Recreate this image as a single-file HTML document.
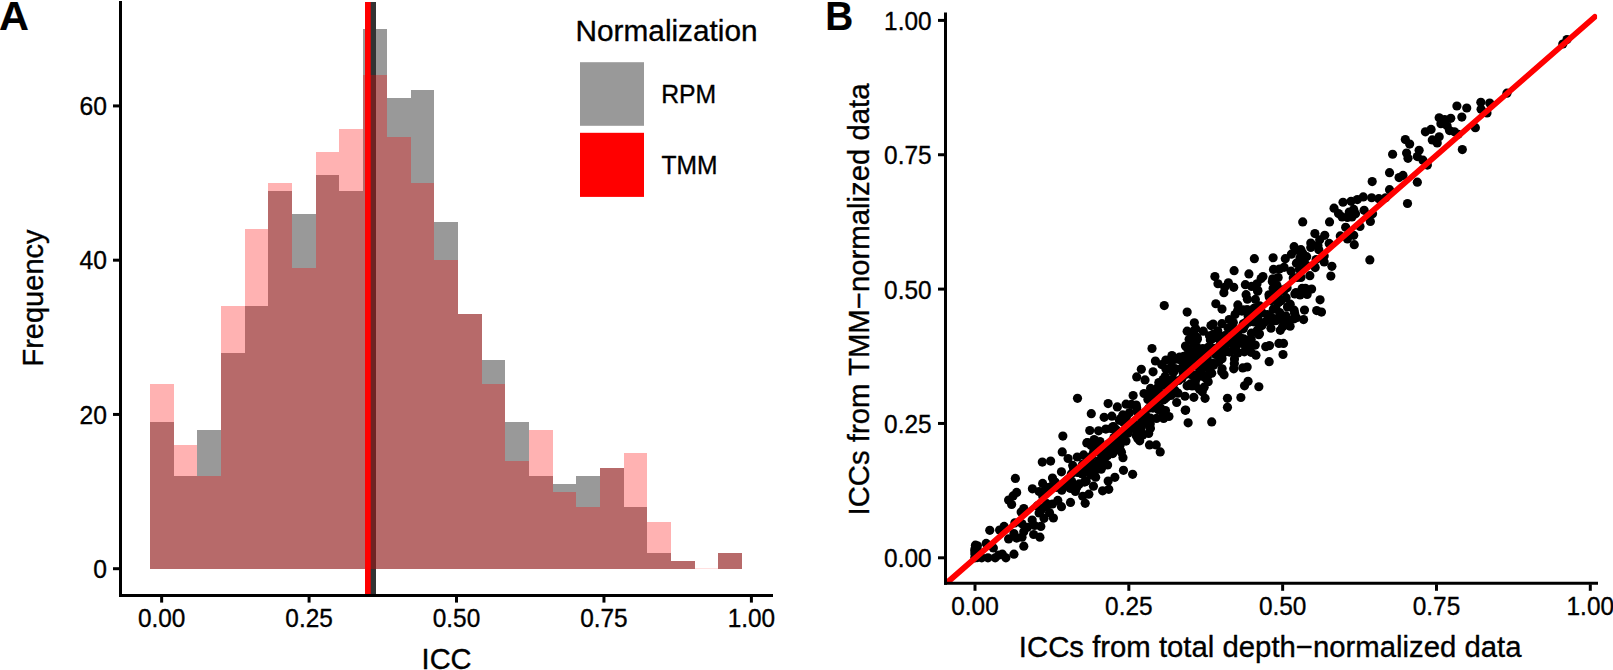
<!DOCTYPE html>
<html lang="en"><head><meta charset="utf-8"><title>ICC normalization comparison</title>
<style>html,body{margin:0;padding:0;background:#fff;}body{width:1613px;height:670px;overflow:hidden;}svg{display:block;}text{font-family:"Liberation Sans",Arial,Helvetica,sans-serif;fill:#000;stroke:#000;stroke-width:0.35px;stroke-linejoin:round;}text.b{stroke-width:0.15px;}</style>
</head><body>
<svg width="1613" height="670" viewBox="0 0 1613 670">
<rect x="0" y="0" width="1613" height="670" fill="#fff"/>
<g id="panelA">
<g fill="#000" fill-opacity="0.4" shape-rendering="crispEdges">
<rect x="150" y="422.15" width="23.68" height="146.55"/>
<rect x="173.68" y="476.14" width="23.68" height="92.56"/>
<rect x="197.37" y="429.87" width="23.68" height="138.83"/>
<rect x="221.05" y="352.74" width="23.68" height="215.96"/>
<rect x="244.74" y="306.46" width="23.68" height="262.24"/>
<rect x="268.42" y="190.76" width="23.68" height="377.94"/>
<rect x="292.1" y="213.9" width="23.68" height="354.8"/>
<rect x="315.79" y="175.34" width="23.68" height="393.36"/>
<rect x="339.47" y="190.76" width="23.68" height="377.94"/>
<rect x="363.16" y="28.79" width="23.68" height="539.91"/>
<rect x="386.84" y="98.21" width="23.68" height="470.49"/>
<rect x="410.52" y="90.49" width="23.68" height="478.21"/>
<rect x="434.21" y="221.62" width="23.68" height="347.08"/>
<rect x="457.89" y="314.17" width="23.68" height="254.53"/>
<rect x="481.58" y="360.45" width="23.68" height="208.25"/>
<rect x="505.26" y="422.15" width="23.68" height="146.55"/>
<rect x="528.94" y="476.14" width="23.68" height="92.56"/>
<rect x="552.63" y="483.86" width="23.68" height="84.84"/>
<rect x="576.31" y="476.14" width="23.68" height="92.56"/>
<rect x="600" y="468.43" width="23.68" height="100.27"/>
<rect x="623.68" y="507" width="23.68" height="61.7"/>
<rect x="647.36" y="553.27" width="23.68" height="15.43"/>
<rect x="671.05" y="560.99" width="23.68" height="7.71"/>
<rect x="718.42" y="553.27" width="23.68" height="15.43"/>
</g>
<rect x="370" y="2" width="6" height="593" fill="#333"/>
<g fill="#f00" fill-opacity="0.3" shape-rendering="crispEdges">
<rect x="150" y="383.59" width="23.68" height="185.11"/>
<rect x="173.68" y="445.29" width="23.68" height="123.41"/>
<rect x="197.37" y="476.14" width="23.68" height="92.56"/>
<rect x="221.05" y="306.46" width="23.68" height="262.24"/>
<rect x="244.74" y="229.33" width="23.68" height="339.37"/>
<rect x="268.42" y="183.05" width="23.68" height="385.65"/>
<rect x="292.1" y="267.89" width="23.68" height="300.81"/>
<rect x="315.79" y="152.2" width="23.68" height="416.5"/>
<rect x="339.47" y="129.06" width="23.68" height="439.64"/>
<rect x="363.16" y="75.07" width="23.68" height="493.63"/>
<rect x="386.84" y="136.77" width="23.68" height="431.93"/>
<rect x="410.52" y="183.05" width="23.68" height="385.65"/>
<rect x="434.21" y="260.18" width="23.68" height="308.52"/>
<rect x="457.89" y="314.17" width="23.68" height="254.53"/>
<rect x="481.58" y="383.59" width="23.68" height="185.11"/>
<rect x="505.26" y="460.72" width="23.68" height="107.98"/>
<rect x="528.94" y="429.87" width="23.68" height="138.83"/>
<rect x="552.63" y="491.57" width="23.68" height="77.13"/>
<rect x="576.31" y="507" width="23.68" height="61.7"/>
<rect x="600" y="468.43" width="23.68" height="100.27"/>
<rect x="623.68" y="453.01" width="23.68" height="115.7"/>
<rect x="647.36" y="522.42" width="23.68" height="46.28"/>
<rect x="671.05" y="560.99" width="23.68" height="7.71"/>
<rect x="694.73" y="567.8" width="23.68" height="1" fill-opacity="0.12"/>
<rect x="718.42" y="553.27" width="23.68" height="15.43"/>
</g>
<rect x="365" y="2" width="5.7" height="593" fill="#f00"/>
<g stroke="#000" stroke-width="3" fill="none">
<line x1="120.5" y1="1" x2="120.5" y2="597"/>
<line x1="119" y1="595.5" x2="773" y2="595.5"/>
<line x1="113" y1="568.7" x2="119.5" y2="568.7"/>
<line x1="113" y1="414.44" x2="119.5" y2="414.44"/>
<line x1="113" y1="260.18" x2="119.5" y2="260.18"/>
<line x1="113" y1="105.92" x2="119.5" y2="105.92"/>
<line x1="161.65" y1="596.5" x2="161.65" y2="602.6"/>
<line x1="309.09" y1="596.5" x2="309.09" y2="602.6"/>
<line x1="456.52" y1="596.5" x2="456.52" y2="602.6"/>
<line x1="603.96" y1="596.5" x2="603.96" y2="602.6"/>
<line x1="751.4" y1="596.5" x2="751.4" y2="602.6"/>
</g>
<g font-size="25" lengthAdjust="spacingAndGlyphs">
<text x="107" y="577.9" text-anchor="end" textLength="13.7" lengthAdjust="spacingAndGlyphs">0</text>
<text x="107" y="423.64" text-anchor="end" textLength="27.4" lengthAdjust="spacingAndGlyphs">20</text>
<text x="107" y="269.38" text-anchor="end" textLength="27.4" lengthAdjust="spacingAndGlyphs">40</text>
<text x="107" y="115.12" text-anchor="end" textLength="27.4" lengthAdjust="spacingAndGlyphs">60</text>
<text x="161.65" y="627" text-anchor="middle" textLength="47.5" lengthAdjust="spacingAndGlyphs">0.00</text>
<text x="309.09" y="627" text-anchor="middle" textLength="47.5" lengthAdjust="spacingAndGlyphs">0.25</text>
<text x="456.52" y="627" text-anchor="middle" textLength="47.5" lengthAdjust="spacingAndGlyphs">0.50</text>
<text x="603.96" y="627" text-anchor="middle" textLength="47.5" lengthAdjust="spacingAndGlyphs">0.75</text>
<text x="751.4" y="627" text-anchor="middle" textLength="47.5" lengthAdjust="spacingAndGlyphs">1.00</text>
</g>
<text x="446.6" y="669" font-size="30.2" text-anchor="middle" textLength="50" lengthAdjust="spacingAndGlyphs">ICC</text>
<text transform="translate(43,298) rotate(-90)" font-size="30.2" text-anchor="middle" textLength="137" lengthAdjust="spacingAndGlyphs">Frequency</text>
<text x="-1" y="29.8" font-size="41.5" font-weight="bold" class="b">A</text>
<text x="575.5" y="40.7" font-size="30.2" textLength="182.1" lengthAdjust="spacingAndGlyphs">Normalization</text>
<rect x="580" y="62.2" width="64" height="63.6" fill="#999"/>
<rect x="580" y="132.8" width="64" height="64.1" fill="#f00"/>
<text x="661.2" y="103.1" font-size="25" textLength="55" lengthAdjust="spacingAndGlyphs">RPM</text>
<text x="661.6" y="173.9" font-size="25" textLength="55.9" lengthAdjust="spacingAndGlyphs">TMM</text>
</g>
<g id="panelB">
<g fill="#000">
<circle cx="976.97" cy="550.87" r="4.6"/>
<circle cx="975.12" cy="552.64" r="4.6"/>
<circle cx="975.12" cy="557.16" r="4.6"/>
<circle cx="976.6" cy="554.63" r="4.6"/>
<circle cx="977.4" cy="545.76" r="4.6"/>
<circle cx="975.98" cy="551.19" r="4.6"/>
<circle cx="975.12" cy="550.33" r="4.6"/>
<circle cx="977.15" cy="556.94" r="4.6"/>
<circle cx="977.15" cy="554.74" r="4.6"/>
<circle cx="977.15" cy="557.53" r="4.6"/>
<circle cx="975" cy="551.03" r="4.6"/>
<circle cx="975.49" cy="553.45" r="4.6"/>
<circle cx="1032.16" cy="520.02" r="4.6"/>
<circle cx="1040.65" cy="511.05" r="4.6"/>
<circle cx="1048.04" cy="487.72" r="4.6"/>
<circle cx="1042.81" cy="496.43" r="4.6"/>
<circle cx="1056.71" cy="487.29" r="4.6"/>
<circle cx="1049.51" cy="512.71" r="4.6"/>
<circle cx="1037.33" cy="505.94" r="4.6"/>
<circle cx="1039.11" cy="512.98" r="4.6"/>
<circle cx="1046.07" cy="506.75" r="4.6"/>
<circle cx="1046.87" cy="503.68" r="4.6"/>
<circle cx="1050.74" cy="486.92" r="4.6"/>
<circle cx="1055.3" cy="482.35" r="4.6"/>
<circle cx="1053.88" cy="481.54" r="4.6"/>
<circle cx="1067.17" cy="480.41" r="4.6"/>
<circle cx="1064.34" cy="485.95" r="4.6"/>
<circle cx="1077.39" cy="472.41" r="4.6"/>
<circle cx="1081.45" cy="473.54" r="4.6"/>
<circle cx="1071.36" cy="473.91" r="4.6"/>
<circle cx="1071.11" cy="486.27" r="4.6"/>
<circle cx="1076.83" cy="487.35" r="4.6"/>
<circle cx="1086.18" cy="481.22" r="4.6"/>
<circle cx="1081.69" cy="473.32" r="4.6"/>
<circle cx="1079.29" cy="483.91" r="4.6"/>
<circle cx="1071.6" cy="487.99" r="4.6"/>
<circle cx="1073.51" cy="468.11" r="4.6"/>
<circle cx="1069.51" cy="481.44" r="4.6"/>
<circle cx="1061.7" cy="488.42" r="4.6"/>
<circle cx="1077.26" cy="456.98" r="4.6"/>
<circle cx="1084.52" cy="482.03" r="4.6"/>
<circle cx="1086.12" cy="468.27" r="4.6"/>
<circle cx="1082" cy="465.69" r="4.6"/>
<circle cx="1071.73" cy="481.6" r="4.6"/>
<circle cx="1082.86" cy="474.34" r="4.6"/>
<circle cx="1065.14" cy="485.2" r="4.6"/>
<circle cx="1068.09" cy="458.49" r="4.6"/>
<circle cx="1075.36" cy="491.43" r="4.6"/>
<circle cx="1083.05" cy="463.97" r="4.6"/>
<circle cx="1072.71" cy="465.47" r="4.6"/>
<circle cx="1061.76" cy="490.14" r="4.6"/>
<circle cx="1070.13" cy="488.31" r="4.6"/>
<circle cx="1083.66" cy="454.94" r="4.6"/>
<circle cx="1097.63" cy="451.5" r="4.6"/>
<circle cx="1107.6" cy="464.99" r="4.6"/>
<circle cx="1106" cy="453.97" r="4.6"/>
<circle cx="1101.07" cy="467.62" r="4.6"/>
<circle cx="1098.8" cy="450.37" r="4.6"/>
<circle cx="1103.6" cy="451.18" r="4.6"/>
<circle cx="1087.35" cy="461.28" r="4.6"/>
<circle cx="1091.66" cy="455.91" r="4.6"/>
<circle cx="1087.6" cy="442.53" r="4.6"/>
<circle cx="1101.26" cy="452.25" r="4.6"/>
<circle cx="1095.05" cy="470.69" r="4.6"/>
<circle cx="1096.71" cy="447.53" r="4.6"/>
<circle cx="1105.81" cy="429.04" r="4.6"/>
<circle cx="1095.66" cy="477.14" r="4.6"/>
<circle cx="1094.86" cy="445.32" r="4.6"/>
<circle cx="1092.09" cy="444.14" r="4.6"/>
<circle cx="1098.86" cy="461.39" r="4.6"/>
<circle cx="1094.18" cy="439.57" r="4.6"/>
<circle cx="1087.66" cy="467.79" r="4.6"/>
<circle cx="1099.48" cy="460.37" r="4.6"/>
<circle cx="1106.98" cy="445.97" r="4.6"/>
<circle cx="1100.15" cy="446.67" r="4.6"/>
<circle cx="1101.2" cy="469.18" r="4.6"/>
<circle cx="1099.35" cy="464.72" r="4.6"/>
<circle cx="1098.55" cy="430.87" r="4.6"/>
<circle cx="1100.03" cy="467.68" r="4.6"/>
<circle cx="1091.11" cy="445.43" r="4.6"/>
<circle cx="1104.83" cy="458.22" r="4.6"/>
<circle cx="1093.63" cy="451.93" r="4.6"/>
<circle cx="1092.83" cy="463.65" r="4.6"/>
<circle cx="1086.8" cy="442.9" r="4.6"/>
<circle cx="1107.66" cy="455.48" r="4.6"/>
<circle cx="1103.41" cy="465.15" r="4.6"/>
<circle cx="1103.17" cy="451.82" r="4.6"/>
<circle cx="1099.97" cy="441.56" r="4.6"/>
<circle cx="1093.2" cy="471.44" r="4.6"/>
<circle cx="1109.2" cy="443.5" r="4.6"/>
<circle cx="1104.52" cy="451.34" r="4.6"/>
<circle cx="1091.17" cy="474.99" r="4.6"/>
<circle cx="1088.71" cy="470.53" r="4.6"/>
<circle cx="1120.15" cy="444.89" r="4.6"/>
<circle cx="1111.1" cy="428.56" r="4.6"/>
<circle cx="1116.4" cy="430.49" r="4.6"/>
<circle cx="1125.99" cy="441.08" r="4.6"/>
<circle cx="1133.13" cy="395.51" r="4.6"/>
<circle cx="1126.24" cy="417.32" r="4.6"/>
<circle cx="1113.63" cy="426.67" r="4.6"/>
<circle cx="1120.89" cy="437.05" r="4.6"/>
<circle cx="1119.1" cy="437.37" r="4.6"/>
<circle cx="1123.66" cy="435.76" r="4.6"/>
<circle cx="1131.47" cy="404.43" r="4.6"/>
<circle cx="1120.7" cy="418.61" r="4.6"/>
<circle cx="1120.33" cy="434.79" r="4.6"/>
<circle cx="1121.44" cy="452.2" r="4.6"/>
<circle cx="1112.58" cy="447.36" r="4.6"/>
<circle cx="1116.77" cy="445.11" r="4.6"/>
<circle cx="1124.52" cy="421.14" r="4.6"/>
<circle cx="1111.72" cy="448.49" r="4.6"/>
<circle cx="1133.81" cy="423.34" r="4.6"/>
<circle cx="1120.33" cy="450.21" r="4.6"/>
<circle cx="1113.93" cy="437.53" r="4.6"/>
<circle cx="1130.92" cy="427.8" r="4.6"/>
<circle cx="1112.77" cy="453.6" r="4.6"/>
<circle cx="1128.03" cy="426.84" r="4.6"/>
<circle cx="1122.98" cy="457.63" r="4.6"/>
<circle cx="1133.13" cy="428.45" r="4.6"/>
<circle cx="1112.89" cy="448.12" r="4.6"/>
<circle cx="1115.66" cy="436.62" r="4.6"/>
<circle cx="1129.44" cy="412.7" r="4.6"/>
<circle cx="1115.78" cy="429.15" r="4.6"/>
<circle cx="1121.63" cy="435.7" r="4.6"/>
<circle cx="1127.96" cy="433.18" r="4.6"/>
<circle cx="1119.41" cy="420.28" r="4.6"/>
<circle cx="1112.77" cy="426.78" r="4.6"/>
<circle cx="1123.53" cy="422.43" r="4.6"/>
<circle cx="1126.06" cy="404.16" r="4.6"/>
<circle cx="1130.98" cy="427.32" r="4.6"/>
<circle cx="1118.92" cy="435.92" r="4.6"/>
<circle cx="1123.47" cy="420.06" r="4.6"/>
<circle cx="1114.55" cy="445.86" r="4.6"/>
<circle cx="1122.8" cy="414.96" r="4.6"/>
<circle cx="1157.56" cy="397.87" r="4.6"/>
<circle cx="1148.51" cy="399" r="4.6"/>
<circle cx="1145.68" cy="415.34" r="4.6"/>
<circle cx="1136.15" cy="435.54" r="4.6"/>
<circle cx="1140.7" cy="426.78" r="4.6"/>
<circle cx="1140.52" cy="429.63" r="4.6"/>
<circle cx="1136.7" cy="407.7" r="4.6"/>
<circle cx="1139.72" cy="440.81" r="4.6"/>
<circle cx="1156.51" cy="418.4" r="4.6"/>
<circle cx="1156.21" cy="401.36" r="4.6"/>
<circle cx="1137.25" cy="429.2" r="4.6"/>
<circle cx="1158.85" cy="382.61" r="4.6"/>
<circle cx="1136.21" cy="405.02" r="4.6"/>
<circle cx="1141.44" cy="418.18" r="4.6"/>
<circle cx="1150.24" cy="423.77" r="4.6"/>
<circle cx="1159.9" cy="408.03" r="4.6"/>
<circle cx="1149.93" cy="428.61" r="4.6"/>
<circle cx="1142.79" cy="435" r="4.6"/>
<circle cx="1150.55" cy="388.41" r="4.6"/>
<circle cx="1155.78" cy="392.98" r="4.6"/>
<circle cx="1147.9" cy="399.43" r="4.6"/>
<circle cx="1142.3" cy="433.98" r="4.6"/>
<circle cx="1148.58" cy="420.01" r="4.6"/>
<circle cx="1150.36" cy="418.02" r="4.6"/>
<circle cx="1142.12" cy="419.47" r="4.6"/>
<circle cx="1150.36" cy="428.29" r="4.6"/>
<circle cx="1153.07" cy="371.86" r="4.6"/>
<circle cx="1157.99" cy="387.34" r="4.6"/>
<circle cx="1144.02" cy="393.52" r="4.6"/>
<circle cx="1150.3" cy="393.68" r="4.6"/>
<circle cx="1152.94" cy="408.08" r="4.6"/>
<circle cx="1148.7" cy="433.45" r="4.6"/>
<circle cx="1137.75" cy="438.44" r="4.6"/>
<circle cx="1160.21" cy="393.03" r="4.6"/>
<circle cx="1142.12" cy="425.28" r="4.6"/>
<circle cx="1143.53" cy="421.52" r="4.6"/>
<circle cx="1136.76" cy="425.98" r="4.6"/>
<circle cx="1142.18" cy="421.14" r="4.6"/>
<circle cx="1155.41" cy="392.28" r="4.6"/>
<circle cx="1158.42" cy="409.75" r="4.6"/>
<circle cx="1137.44" cy="411.84" r="4.6"/>
<circle cx="1148.76" cy="408.24" r="4.6"/>
<circle cx="1153.87" cy="396.9" r="4.6"/>
<circle cx="1172.14" cy="361.06" r="4.6"/>
<circle cx="1183.03" cy="372.29" r="4.6"/>
<circle cx="1163.65" cy="418.51" r="4.6"/>
<circle cx="1176.82" cy="392.6" r="4.6"/>
<circle cx="1184.26" cy="371.64" r="4.6"/>
<circle cx="1165.19" cy="376.43" r="4.6"/>
<circle cx="1174.11" cy="391.04" r="4.6"/>
<circle cx="1174.3" cy="390.72" r="4.6"/>
<circle cx="1166.42" cy="397.39" r="4.6"/>
<circle cx="1174.91" cy="368.58" r="4.6"/>
<circle cx="1165.19" cy="377.99" r="4.6"/>
<circle cx="1171.71" cy="379.6" r="4.6"/>
<circle cx="1177.99" cy="393.25" r="4.6"/>
<circle cx="1160.7" cy="408.24" r="4.6"/>
<circle cx="1162.79" cy="413.19" r="4.6"/>
<circle cx="1172.57" cy="392.23" r="4.6"/>
<circle cx="1165.87" cy="360.04" r="4.6"/>
<circle cx="1181.25" cy="368.47" r="4.6"/>
<circle cx="1164.57" cy="398.94" r="4.6"/>
<circle cx="1164.2" cy="380.35" r="4.6"/>
<circle cx="1181.56" cy="360.68" r="4.6"/>
<circle cx="1170.73" cy="395.45" r="4.6"/>
<circle cx="1170.23" cy="367.88" r="4.6"/>
<circle cx="1163.16" cy="399.97" r="4.6"/>
<circle cx="1177.06" cy="359.07" r="4.6"/>
<circle cx="1184.14" cy="362.67" r="4.6"/>
<circle cx="1174.79" cy="390.24" r="4.6"/>
<circle cx="1167.9" cy="385.99" r="4.6"/>
<circle cx="1165.93" cy="369.07" r="4.6"/>
<circle cx="1164.27" cy="385.35" r="4.6"/>
<circle cx="1178.73" cy="380.51" r="4.6"/>
<circle cx="1168.94" cy="416.52" r="4.6"/>
<circle cx="1173.68" cy="372.02" r="4.6"/>
<circle cx="1164.7" cy="378.25" r="4.6"/>
<circle cx="1179.65" cy="357.03" r="4.6"/>
<circle cx="1173.93" cy="380.24" r="4.6"/>
<circle cx="1163.04" cy="379.54" r="4.6"/>
<circle cx="1184.94" cy="396.26" r="4.6"/>
<circle cx="1172.08" cy="371.05" r="4.6"/>
<circle cx="1182.05" cy="378.2" r="4.6"/>
<circle cx="1165.5" cy="410.5" r="4.6"/>
<circle cx="1176.7" cy="402.49" r="4.6"/>
<circle cx="1173.74" cy="393.19" r="4.6"/>
<circle cx="1173.8" cy="383.41" r="4.6"/>
<circle cx="1162.73" cy="412.06" r="4.6"/>
<circle cx="1183.83" cy="356.27" r="4.6"/>
<circle cx="1161.68" cy="364.55" r="4.6"/>
<circle cx="1202.11" cy="358.69" r="4.6"/>
<circle cx="1189.12" cy="339.35" r="4.6"/>
<circle cx="1190.72" cy="360.31" r="4.6"/>
<circle cx="1204.14" cy="387.18" r="4.6"/>
<circle cx="1197.06" cy="337.36" r="4.6"/>
<circle cx="1193.99" cy="357.73" r="4.6"/>
<circle cx="1196.45" cy="374.87" r="4.6"/>
<circle cx="1195.15" cy="382.5" r="4.6"/>
<circle cx="1187.09" cy="385.83" r="4.6"/>
<circle cx="1188.82" cy="363.05" r="4.6"/>
<circle cx="1195.28" cy="354.07" r="4.6"/>
<circle cx="1195.59" cy="359.07" r="4.6"/>
<circle cx="1199.52" cy="389.33" r="4.6"/>
<circle cx="1202.78" cy="348.54" r="4.6"/>
<circle cx="1195.65" cy="328.81" r="4.6"/>
<circle cx="1189.49" cy="355.63" r="4.6"/>
<circle cx="1194.05" cy="353.16" r="4.6"/>
<circle cx="1208.2" cy="374.71" r="4.6"/>
<circle cx="1190.11" cy="372.24" r="4.6"/>
<circle cx="1197.98" cy="362.4" r="4.6"/>
<circle cx="1202.17" cy="363.53" r="4.6"/>
<circle cx="1208.14" cy="347.3" r="4.6"/>
<circle cx="1196.32" cy="357.46" r="4.6"/>
<circle cx="1192.08" cy="385.89" r="4.6"/>
<circle cx="1196.45" cy="337.79" r="4.6"/>
<circle cx="1193.86" cy="397.28" r="4.6"/>
<circle cx="1194.11" cy="330.75" r="4.6"/>
<circle cx="1207.21" cy="357.35" r="4.6"/>
<circle cx="1203.28" cy="376.53" r="4.6"/>
<circle cx="1197.49" cy="360.95" r="4.6"/>
<circle cx="1185.68" cy="410.01" r="4.6"/>
<circle cx="1196.57" cy="378.42" r="4.6"/>
<circle cx="1185.25" cy="369.92" r="4.6"/>
<circle cx="1197.37" cy="339.24" r="4.6"/>
<circle cx="1193.49" cy="342.89" r="4.6"/>
<circle cx="1194.23" cy="376.91" r="4.6"/>
<circle cx="1205.49" cy="352.35" r="4.6"/>
<circle cx="1185.25" cy="410.34" r="4.6"/>
<circle cx="1197.31" cy="350.85" r="4.6"/>
<circle cx="1199.22" cy="368.1" r="4.6"/>
<circle cx="1202.29" cy="391.69" r="4.6"/>
<circle cx="1209.49" cy="335.75" r="4.6"/>
<circle cx="1200.14" cy="361" r="4.6"/>
<circle cx="1207.52" cy="375.94" r="4.6"/>
<circle cx="1193.74" cy="336.02" r="4.6"/>
<circle cx="1186.79" cy="367.78" r="4.6"/>
<circle cx="1201.12" cy="371.59" r="4.6"/>
<circle cx="1205.74" cy="364.12" r="4.6"/>
<circle cx="1208.2" cy="381.75" r="4.6"/>
<circle cx="1187.71" cy="348.86" r="4.6"/>
<circle cx="1185.99" cy="372.93" r="4.6"/>
<circle cx="1207.95" cy="367.29" r="4.6"/>
<circle cx="1191.52" cy="374.71" r="4.6"/>
<circle cx="1186.17" cy="374.22" r="4.6"/>
<circle cx="1185.49" cy="346.01" r="4.6"/>
<circle cx="1200.32" cy="356.97" r="4.6"/>
<circle cx="1205.8" cy="378.09" r="4.6"/>
<circle cx="1200.08" cy="350.9" r="4.6"/>
<circle cx="1190.29" cy="383.95" r="4.6"/>
<circle cx="1195.4" cy="385.78" r="4.6"/>
<circle cx="1188.32" cy="373.31" r="4.6"/>
<circle cx="1196.51" cy="346.6" r="4.6"/>
<circle cx="1196.57" cy="348.27" r="4.6"/>
<circle cx="1203.95" cy="356.81" r="4.6"/>
<circle cx="1210.35" cy="339.99" r="4.6"/>
<circle cx="1233.3" cy="333.38" r="4.6"/>
<circle cx="1221.37" cy="351.06" r="4.6"/>
<circle cx="1222.04" cy="358.64" r="4.6"/>
<circle cx="1222.66" cy="353.7" r="4.6"/>
<circle cx="1211.71" cy="373.26" r="4.6"/>
<circle cx="1214.35" cy="352.03" r="4.6"/>
<circle cx="1233.3" cy="322.58" r="4.6"/>
<circle cx="1234.35" cy="363.53" r="4.6"/>
<circle cx="1230.6" cy="336.39" r="4.6"/>
<circle cx="1229.24" cy="319.52" r="4.6"/>
<circle cx="1213.61" cy="348.32" r="4.6"/>
<circle cx="1212.94" cy="338" r="4.6"/>
<circle cx="1211.09" cy="350.15" r="4.6"/>
<circle cx="1213.18" cy="334.35" r="4.6"/>
<circle cx="1217.74" cy="330.75" r="4.6"/>
<circle cx="1215.34" cy="354.34" r="4.6"/>
<circle cx="1232.2" cy="325.05" r="4.6"/>
<circle cx="1221.98" cy="309.09" r="4.6"/>
<circle cx="1234.47" cy="358.91" r="4.6"/>
<circle cx="1212.63" cy="364.82" r="4.6"/>
<circle cx="1219.95" cy="344.83" r="4.6"/>
<circle cx="1212.63" cy="363.21" r="4.6"/>
<circle cx="1218.84" cy="335.8" r="4.6"/>
<circle cx="1221.92" cy="323.65" r="4.6"/>
<circle cx="1217.12" cy="354.82" r="4.6"/>
<circle cx="1224.87" cy="335.48" r="4.6"/>
<circle cx="1224.81" cy="344.45" r="4.6"/>
<circle cx="1218.72" cy="338.06" r="4.6"/>
<circle cx="1213.18" cy="350.58" r="4.6"/>
<circle cx="1210.97" cy="336.71" r="4.6"/>
<circle cx="1212.01" cy="349.24" r="4.6"/>
<circle cx="1228.01" cy="328.01" r="4.6"/>
<circle cx="1229.67" cy="352.03" r="4.6"/>
<circle cx="1218.66" cy="361.97" r="4.6"/>
<circle cx="1231.09" cy="340.42" r="4.6"/>
<circle cx="1211.03" cy="363.8" r="4.6"/>
<circle cx="1228.63" cy="342.73" r="4.6"/>
<circle cx="1213.55" cy="365.36" r="4.6"/>
<circle cx="1210.97" cy="325.54" r="4.6"/>
<circle cx="1227.27" cy="351.28" r="4.6"/>
<circle cx="1221.74" cy="371.64" r="4.6"/>
<circle cx="1232.93" cy="344.51" r="4.6"/>
<circle cx="1216.51" cy="354.23" r="4.6"/>
<circle cx="1224.2" cy="338.38" r="4.6"/>
<circle cx="1224.07" cy="374.82" r="4.6"/>
<circle cx="1212.63" cy="338.59" r="4.6"/>
<circle cx="1252.01" cy="316.99" r="4.6"/>
<circle cx="1248.5" cy="313.71" r="4.6"/>
<circle cx="1238.53" cy="343.48" r="4.6"/>
<circle cx="1234.9" cy="346.82" r="4.6"/>
<circle cx="1243.15" cy="309.9" r="4.6"/>
<circle cx="1257.61" cy="291.14" r="4.6"/>
<circle cx="1242.22" cy="339.24" r="4.6"/>
<circle cx="1241.98" cy="311.03" r="4.6"/>
<circle cx="1246.47" cy="343.86" r="4.6"/>
<circle cx="1237.3" cy="332.2" r="4.6"/>
<circle cx="1254.28" cy="321.94" r="4.6"/>
<circle cx="1251.45" cy="333.22" r="4.6"/>
<circle cx="1246.9" cy="309.74" r="4.6"/>
<circle cx="1244.38" cy="351.87" r="4.6"/>
<circle cx="1251.21" cy="320.22" r="4.6"/>
<circle cx="1247.39" cy="299.26" r="4.6"/>
<circle cx="1245.18" cy="345.63" r="4.6"/>
<circle cx="1255.39" cy="299.42" r="4.6"/>
<circle cx="1253.92" cy="308.45" r="4.6"/>
<circle cx="1257.79" cy="317.64" r="4.6"/>
<circle cx="1243.15" cy="325.48" r="4.6"/>
<circle cx="1245.86" cy="322.31" r="4.6"/>
<circle cx="1239.95" cy="337.3" r="4.6"/>
<circle cx="1244.81" cy="325.59" r="4.6"/>
<circle cx="1246.1" cy="294.69" r="4.6"/>
<circle cx="1235.21" cy="342.2" r="4.6"/>
<circle cx="1253.48" cy="321.29" r="4.6"/>
<circle cx="1243.33" cy="328.81" r="4.6"/>
<circle cx="1238.04" cy="352.89" r="4.6"/>
<circle cx="1258.71" cy="322.79" r="4.6"/>
<circle cx="1249.98" cy="316.29" r="4.6"/>
<circle cx="1257.85" cy="290.34" r="4.6"/>
<circle cx="1242.9" cy="328.28" r="4.6"/>
<circle cx="1236.99" cy="340.64" r="4.6"/>
<circle cx="1236.07" cy="346.12" r="4.6"/>
<circle cx="1248.81" cy="322.15" r="4.6"/>
<circle cx="1243.33" cy="323.82" r="4.6"/>
<circle cx="1247.45" cy="309.84" r="4.6"/>
<circle cx="1249.98" cy="340.64" r="4.6"/>
<circle cx="1235.09" cy="314.52" r="4.6"/>
<circle cx="1257.18" cy="321.88" r="4.6"/>
<circle cx="1254.04" cy="314.3" r="4.6"/>
<circle cx="1236.69" cy="351.65" r="4.6"/>
<circle cx="1243.76" cy="338.92" r="4.6"/>
<circle cx="1248.75" cy="339.78" r="4.6"/>
<circle cx="1254.35" cy="319.57" r="4.6"/>
<circle cx="1237.86" cy="304.9" r="4.6"/>
<circle cx="1238.66" cy="339.13" r="4.6"/>
<circle cx="1258.78" cy="334.67" r="4.6"/>
<circle cx="1237.61" cy="310.86" r="4.6"/>
<circle cx="1248.07" cy="315.86" r="4.6"/>
<circle cx="1284.07" cy="267.28" r="4.6"/>
<circle cx="1260.19" cy="323.12" r="4.6"/>
<circle cx="1259.45" cy="333.81" r="4.6"/>
<circle cx="1281.42" cy="291.2" r="4.6"/>
<circle cx="1269.3" cy="297" r="4.6"/>
<circle cx="1274.16" cy="318.76" r="4.6"/>
<circle cx="1276.93" cy="285.5" r="4.6"/>
<circle cx="1270.96" cy="316.99" r="4.6"/>
<circle cx="1273.91" cy="292.49" r="4.6"/>
<circle cx="1277.91" cy="302.7" r="4.6"/>
<circle cx="1275.33" cy="286.9" r="4.6"/>
<circle cx="1261.11" cy="278.62" r="4.6"/>
<circle cx="1259.58" cy="305.76" r="4.6"/>
<circle cx="1268.99" cy="294.85" r="4.6"/>
<circle cx="1275.82" cy="308.29" r="4.6"/>
<circle cx="1265.36" cy="321.83" r="4.6"/>
<circle cx="1272.31" cy="281.58" r="4.6"/>
<circle cx="1279.64" cy="312.53" r="4.6"/>
<circle cx="1262.1" cy="312.69" r="4.6"/>
<circle cx="1277.91" cy="296.95" r="4.6"/>
<circle cx="1260.68" cy="311.94" r="4.6"/>
<circle cx="1267.27" cy="314.63" r="4.6"/>
<circle cx="1277.48" cy="301.62" r="4.6"/>
<circle cx="1275.82" cy="320.65" r="4.6"/>
<circle cx="1281.23" cy="300.71" r="4.6"/>
<circle cx="1271.08" cy="300.17" r="4.6"/>
<circle cx="1270.84" cy="300.82" r="4.6"/>
<circle cx="1278.71" cy="302.16" r="4.6"/>
<circle cx="1272.56" cy="297.16" r="4.6"/>
<circle cx="1281.91" cy="290.07" r="4.6"/>
<circle cx="1273.3" cy="309.15" r="4.6"/>
<circle cx="1261.91" cy="325.54" r="4.6"/>
<circle cx="1286.1" cy="297.64" r="4.6"/>
<circle cx="1293.23" cy="278.08" r="4.6"/>
<circle cx="1299.51" cy="261.69" r="4.6"/>
<circle cx="1296" cy="292.54" r="4.6"/>
<circle cx="1299.45" cy="269.22" r="4.6"/>
<circle cx="1306.89" cy="265.62" r="4.6"/>
<circle cx="1287.08" cy="287.86" r="4.6"/>
<circle cx="1284.13" cy="289.96" r="4.6"/>
<circle cx="1294.83" cy="293.99" r="4.6"/>
<circle cx="1303.57" cy="260.19" r="4.6"/>
<circle cx="1300.06" cy="294.96" r="4.6"/>
<circle cx="1302.16" cy="288.4" r="4.6"/>
<circle cx="1306.28" cy="265.62" r="4.6"/>
<circle cx="1306.65" cy="256.64" r="4.6"/>
<circle cx="1282.96" cy="325.97" r="4.6"/>
<circle cx="1290.22" cy="304.2" r="4.6"/>
<circle cx="1265.73" cy="346.66" r="4.6"/>
<circle cx="1293.54" cy="318.93" r="4.6"/>
<circle cx="1249.18" cy="347.62" r="4.6"/>
<circle cx="1287.2" cy="322.85" r="4.6"/>
<circle cx="1251.15" cy="339.13" r="4.6"/>
<circle cx="1270.96" cy="328.22" r="4.6"/>
<circle cx="1272.56" cy="319.68" r="4.6"/>
<circle cx="1282.77" cy="326.83" r="4.6"/>
<circle cx="1259.7" cy="325.32" r="4.6"/>
<circle cx="1285.97" cy="315.92" r="4.6"/>
<circle cx="1257.3" cy="330.32" r="4.6"/>
<circle cx="1255.27" cy="345.04" r="4.6"/>
<circle cx="1272.44" cy="321.02" r="4.6"/>
<circle cx="1278.71" cy="317.9" r="4.6"/>
<circle cx="1251.09" cy="352.35" r="4.6"/>
<circle cx="1281.11" cy="319.03" r="4.6"/>
<circle cx="1290.1" cy="326.18" r="4.6"/>
<circle cx="1294.09" cy="310.22" r="4.6"/>
<circle cx="1255.95" cy="355.15" r="4.6"/>
<circle cx="1566.98" cy="39.53" r="4.6"/>
<circle cx="1562.8" cy="43.99" r="4.6"/>
<circle cx="1506.93" cy="93.22" r="4.6"/>
<circle cx="1489.7" cy="103.05" r="4.6"/>
<circle cx="1480.84" cy="102.3" r="4.6"/>
<circle cx="1481.08" cy="109.23" r="4.6"/>
<circle cx="1486.99" cy="112.89" r="4.6"/>
<circle cx="1456.9" cy="106.01" r="4.6"/>
<circle cx="1466.75" cy="108" r="4.6"/>
<circle cx="1461.83" cy="117.08" r="4.6"/>
<circle cx="1475.36" cy="127.67" r="4.6"/>
<circle cx="1439.18" cy="117.83" r="4.6"/>
<circle cx="1444.6" cy="119.55" r="4.6"/>
<circle cx="1450.75" cy="118.31" r="4.6"/>
<circle cx="1440.91" cy="123.74" r="4.6"/>
<circle cx="1447.06" cy="125.73" r="4.6"/>
<circle cx="1449.52" cy="130.62" r="4.6"/>
<circle cx="1454.44" cy="131.86" r="4.6"/>
<circle cx="1458.13" cy="134.33" r="4.6"/>
<circle cx="1425.4" cy="131.86" r="4.6"/>
<circle cx="1431.06" cy="129.38" r="4.6"/>
<circle cx="1439.18" cy="136.8" r="4.6"/>
<circle cx="1432.29" cy="139.97" r="4.6"/>
<circle cx="1437.21" cy="142.93" r="4.6"/>
<circle cx="1462.32" cy="149.59" r="4.6"/>
<circle cx="1427.37" cy="165.12" r="4.6"/>
<circle cx="1422.94" cy="160.18" r="4.6"/>
<circle cx="1372.18" cy="181.62" r="4.6"/>
<circle cx="1389.53" cy="172.7" r="4.6"/>
<circle cx="1399.06" cy="177.54" r="4.6"/>
<circle cx="1403" cy="175.39" r="4.6"/>
<circle cx="1417.34" cy="182.16" r="4.6"/>
<circle cx="1389.53" cy="189.68" r="4.6"/>
<circle cx="1407.49" cy="203.49" r="4.6"/>
<circle cx="1363.25" cy="196.88" r="4.6"/>
<circle cx="1371.62" cy="197.74" r="4.6"/>
<circle cx="1378.82" cy="198.66" r="4.6"/>
<circle cx="1357.35" cy="199.57" r="4.6"/>
<circle cx="1351.07" cy="201.34" r="4.6"/>
<circle cx="1343.01" cy="202.26" r="4.6"/>
<circle cx="1385.59" cy="197.74" r="4.6"/>
<circle cx="1334.03" cy="208.17" r="4.6"/>
<circle cx="1338.52" cy="213.54" r="4.6"/>
<circle cx="1342.09" cy="216.93" r="4.6"/>
<circle cx="1349.29" cy="212.09" r="4.6"/>
<circle cx="1353.72" cy="209.4" r="4.6"/>
<circle cx="1355.5" cy="213.86" r="4.6"/>
<circle cx="1351.93" cy="216.93" r="4.6"/>
<circle cx="1347.44" cy="217.46" r="4.6"/>
<circle cx="1364.12" cy="210.32" r="4.6"/>
<circle cx="1372.55" cy="213.86" r="4.6"/>
<circle cx="1370.39" cy="221.39" r="4.6"/>
<circle cx="1329.54" cy="221.92" r="4.6"/>
<circle cx="1302.71" cy="221.92" r="4.6"/>
<circle cx="1345.66" cy="227.3" r="4.6"/>
<circle cx="1359.99" cy="226.44" r="4.6"/>
<circle cx="1314.89" cy="233.59" r="4.6"/>
<circle cx="1324.74" cy="235.36" r="4.6"/>
<circle cx="1319.69" cy="239.87" r="4.6"/>
<circle cx="1340.3" cy="235.9" r="4.6"/>
<circle cx="1353.72" cy="235.36" r="4.6"/>
<circle cx="1347.44" cy="238.96" r="4.6"/>
<circle cx="1354.27" cy="244.71" r="4.6"/>
<circle cx="1310.77" cy="243.1" r="4.6"/>
<circle cx="1310.77" cy="247.4" r="4.6"/>
<circle cx="1317.91" cy="245.25" r="4.6"/>
<circle cx="1318.83" cy="249.71" r="4.6"/>
<circle cx="1329.17" cy="243.42" r="4.6"/>
<circle cx="1302.71" cy="253.31" r="4.6"/>
<circle cx="1300.92" cy="249.71" r="4.6"/>
<circle cx="1300" cy="257.77" r="4.6"/>
<circle cx="1369.84" cy="259.92" r="4.6"/>
<circle cx="1324.18" cy="256" r="4.6"/>
<circle cx="1324.18" cy="261.91" r="4.6"/>
<circle cx="1316.12" cy="259.54" r="4.6"/>
<circle cx="1331.87" cy="266.37" r="4.6"/>
<circle cx="1330.83" cy="276.04" r="4.6"/>
<circle cx="1315.2" cy="267.6" r="4.6"/>
<circle cx="1309.85" cy="275.66" r="4.6"/>
<circle cx="1300.92" cy="277.49" r="4.6"/>
<circle cx="1305.35" cy="288.24" r="4.6"/>
<circle cx="1311.63" cy="289.1" r="4.6"/>
<circle cx="1405.34" cy="139.54" r="4.6"/>
<circle cx="1409.65" cy="144.06" r="4.6"/>
<circle cx="1392.6" cy="154.27" r="4.6"/>
<circle cx="1406.57" cy="152.98" r="4.6"/>
<circle cx="1407.99" cy="158.35" r="4.6"/>
<circle cx="1417.34" cy="156.58" r="4.6"/>
<circle cx="1419.12" cy="150.29" r="4.6"/>
<circle cx="1307.14" cy="294.47" r="4.6"/>
<circle cx="1320.06" cy="299.85" r="4.6"/>
<circle cx="1316.68" cy="310.6" r="4.6"/>
<circle cx="1321.48" cy="312.05" r="4.6"/>
<circle cx="1304.49" cy="310.06" r="4.6"/>
<circle cx="1303.57" cy="319.57" r="4.6"/>
<circle cx="1294.09" cy="246.65" r="4.6"/>
<circle cx="1291.39" cy="254.17" r="4.6"/>
<circle cx="1298.22" cy="250.62" r="4.6"/>
<circle cx="1285.3" cy="258.68" r="4.6"/>
<circle cx="1273.11" cy="257.77" r="4.6"/>
<circle cx="1254.35" cy="258.68" r="4.6"/>
<circle cx="1234.1" cy="270.67" r="4.6"/>
<circle cx="1214.91" cy="276.58" r="4.6"/>
<circle cx="1248.93" cy="273.89" r="4.6"/>
<circle cx="1262.96" cy="276.58" r="4.6"/>
<circle cx="1273.48" cy="269.43" r="4.6"/>
<circle cx="1279.39" cy="269.05" r="4.6"/>
<circle cx="1272.81" cy="278.73" r="4.6"/>
<circle cx="1278.16" cy="277.49" r="4.6"/>
<circle cx="1291.08" cy="271.2" r="4.6"/>
<circle cx="1217.98" cy="283.73" r="4.6"/>
<circle cx="1228.38" cy="282.87" r="4.6"/>
<circle cx="1224.75" cy="287.33" r="4.6"/>
<circle cx="1233.73" cy="287.33" r="4.6"/>
<circle cx="1245.36" cy="284.64" r="4.6"/>
<circle cx="1251.64" cy="286.41" r="4.6"/>
<circle cx="1256.99" cy="283.73" r="4.6"/>
<circle cx="1273.11" cy="288.24" r="4.6"/>
<circle cx="1296.43" cy="263.14" r="4.6"/>
<circle cx="1297.29" cy="277.49" r="4.6"/>
<circle cx="1187.16" cy="312.05" r="4.6"/>
<circle cx="1194.35" cy="322.79" r="4.6"/>
<circle cx="1215.83" cy="303.77" r="4.6"/>
<circle cx="1203.28" cy="331.18" r="4.6"/>
<circle cx="1213.12" cy="324.03" r="4.6"/>
<circle cx="1187.16" cy="331.18" r="4.6"/>
<circle cx="1223.89" cy="292.7" r="4.6"/>
<circle cx="1296.43" cy="317.74" r="4.6"/>
<circle cx="1280.31" cy="330.32" r="4.6"/>
<circle cx="1278.9" cy="343.38" r="4.6"/>
<circle cx="1283.51" cy="343.38" r="4.6"/>
<circle cx="1283.02" cy="354.5" r="4.6"/>
<circle cx="1269.54" cy="345.53" r="4.6"/>
<circle cx="1269.17" cy="361.65" r="4.6"/>
<circle cx="1258.84" cy="386.75" r="4.6"/>
<circle cx="1248.07" cy="381.37" r="4.6"/>
<circle cx="1244.5" cy="385.83" r="4.6"/>
<circle cx="1240.87" cy="397.49" r="4.6"/>
<circle cx="1227.46" cy="398.35" r="4.6"/>
<circle cx="1227.46" cy="407.33" r="4.6"/>
<circle cx="1205.06" cy="398.35" r="4.6"/>
<circle cx="1233.73" cy="368.8" r="4.6"/>
<circle cx="1242.72" cy="367.94" r="4.6"/>
<circle cx="1247.15" cy="367.02" r="4.6"/>
<circle cx="1222.1" cy="368.8" r="4.6"/>
<circle cx="1287.45" cy="307" r="4.6"/>
<circle cx="1294.65" cy="313.28" r="4.6"/>
<circle cx="1015.36" cy="478.43" r="4.6"/>
<circle cx="1016.66" cy="492.4" r="4.6"/>
<circle cx="1013.09" cy="495.95" r="4.6"/>
<circle cx="1008.6" cy="500.08" r="4.6"/>
<circle cx="1011.61" cy="504.38" r="4.6"/>
<circle cx="1032.41" cy="488.8" r="4.6"/>
<circle cx="1042.62" cy="483.42" r="4.6"/>
<circle cx="1052.47" cy="478.05" r="4.6"/>
<circle cx="1039.05" cy="491.48" r="4.6"/>
<circle cx="1045.33" cy="489.71" r="4.6"/>
<circle cx="1061.45" cy="471.82" r="4.6"/>
<circle cx="1023.79" cy="508.52" r="4.6"/>
<circle cx="1021.15" cy="512.07" r="4.6"/>
<circle cx="1057.82" cy="500.46" r="4.6"/>
<circle cx="1052.47" cy="504.01" r="4.6"/>
<circle cx="1045.33" cy="506.69" r="4.6"/>
<circle cx="1040.84" cy="508.52" r="4.6"/>
<circle cx="1061.45" cy="506.69" r="4.6"/>
<circle cx="1053.39" cy="517.98" r="4.6"/>
<circle cx="1044.04" cy="518.35" r="4.6"/>
<circle cx="1040.84" cy="526.42" r="4.6"/>
<circle cx="1034.56" cy="525.5" r="4.6"/>
<circle cx="1004.1" cy="526.42" r="4.6"/>
<circle cx="999.61" cy="530.02" r="4.6"/>
<circle cx="989.77" cy="530.34" r="4.6"/>
<circle cx="1014.87" cy="522.82" r="4.6"/>
<circle cx="1022.01" cy="523.73" r="4.6"/>
<circle cx="1027.42" cy="527.33" r="4.6"/>
<circle cx="1023.79" cy="531.79" r="4.6"/>
<circle cx="1013.95" cy="533.56" r="4.6"/>
<circle cx="1008.6" cy="538.94" r="4.6"/>
<circle cx="1016.66" cy="538.08" r="4.6"/>
<circle cx="1022.01" cy="537.16" r="4.6"/>
<circle cx="1033.64" cy="534.48" r="4.6"/>
<circle cx="1039.91" cy="537.16" r="4.6"/>
<circle cx="1023.79" cy="546.14" r="4.6"/>
<circle cx="986.2" cy="543.45" r="4.6"/>
<circle cx="975.43" cy="545.22" r="4.6"/>
<circle cx="975" cy="548.83" r="4.6"/>
<circle cx="977.22" cy="549.69" r="4.6"/>
<circle cx="993.34" cy="547.91" r="4.6"/>
<circle cx="1013.95" cy="554.2" r="4.6"/>
<circle cx="1002.32" cy="554.2" r="4.6"/>
<circle cx="1005.89" cy="557.8" r="4.6"/>
<circle cx="998.75" cy="555.06" r="4.6"/>
<circle cx="995.18" cy="557.8" r="4.6"/>
<circle cx="987.98" cy="557.8" r="4.6"/>
<circle cx="981.71" cy="557.8" r="4.6"/>
<circle cx="975" cy="557.8" r="4.6"/>
<circle cx="975" cy="554.2" r="4.6"/>
<circle cx="1077.51" cy="398.35" r="4.6"/>
<circle cx="1091.29" cy="413.67" r="4.6"/>
<circle cx="1062.86" cy="436.03" r="4.6"/>
<circle cx="1062.25" cy="451.93" r="4.6"/>
<circle cx="1042.31" cy="462.04" r="4.6"/>
<circle cx="1050.62" cy="461.12" r="4.6"/>
<circle cx="1108.15" cy="403.57" r="4.6"/>
<circle cx="1117.32" cy="406.95" r="4.6"/>
<circle cx="1104.15" cy="417.32" r="4.6"/>
<circle cx="1111.84" cy="416.14" r="4.6"/>
<circle cx="1089.75" cy="430.49" r="4.6"/>
<circle cx="1160.21" cy="451.93" r="4.6"/>
<circle cx="1132.64" cy="474.29" r="4.6"/>
<circle cx="1149.5" cy="444.89" r="4.6"/>
<circle cx="1156.21" cy="444.89" r="4.6"/>
<circle cx="1123.47" cy="470.31" r="4.6"/>
<circle cx="1108.15" cy="481.01" r="4.6"/>
<circle cx="1114.86" cy="477.35" r="4.6"/>
<circle cx="1102.61" cy="490.79" r="4.6"/>
<circle cx="1108.77" cy="489.28" r="4.6"/>
<circle cx="1085.2" cy="503.36" r="4.6"/>
<circle cx="1093.45" cy="486.22" r="4.6"/>
<circle cx="1088.89" cy="494.17" r="4.6"/>
<circle cx="1082.74" cy="496.32" r="4.6"/>
<circle cx="1070.49" cy="502.45" r="4.6"/>
<circle cx="1164.27" cy="305.6" r="4.6"/>
<circle cx="1152.02" cy="348.48" r="4.6"/>
<circle cx="1155.41" cy="361" r="4.6"/>
<circle cx="1141.32" cy="369.28" r="4.6"/>
<circle cx="1136.7" cy="376.91" r="4.6"/>
<circle cx="1145.01" cy="379.97" r="4.6"/>
<circle cx="1171.96" cy="355.52" r="4.6"/>
<circle cx="1211.71" cy="421.95" r="4.6"/>
<circle cx="1188.14" cy="422.86" r="4.6"/>
</g>
<clipPath id="cpB"><rect x="945.5" y="10" width="651.6" height="573.4"/></clipPath>
<line clip-path="url(#cpB)" x1="938.08" y1="590.49" x2="1594.79" y2="16.93" stroke="#f00" stroke-width="5.8" stroke-linecap="round"/>
<g stroke="#000" stroke-width="3" fill="none">
<line x1="945.5" y1="12.4" x2="945.5" y2="584.8"/>
<line x1="944" y1="583.3" x2="1598" y2="583.3"/>
<line x1="938" y1="557.8" x2="944.5" y2="557.8"/>
<line x1="975" y1="584.3" x2="975" y2="590.8"/>
<line x1="938" y1="423.45" x2="944.5" y2="423.45"/>
<line x1="1128.83" y1="584.3" x2="1128.83" y2="590.8"/>
<line x1="938" y1="289.1" x2="944.5" y2="289.1"/>
<line x1="1282.65" y1="584.3" x2="1282.65" y2="590.8"/>
<line x1="938" y1="154.75" x2="944.5" y2="154.75"/>
<line x1="1436.47" y1="584.3" x2="1436.47" y2="590.8"/>
<line x1="938" y1="20.4" x2="944.5" y2="20.4"/>
<line x1="1590.3" y1="584.3" x2="1590.3" y2="590.8"/>
</g>
<g font-size="25">
<text x="931.6" y="567.2" text-anchor="end" textLength="47.5" lengthAdjust="spacingAndGlyphs">0.00</text>
<text x="975" y="615" text-anchor="middle" textLength="47.5" lengthAdjust="spacingAndGlyphs">0.00</text>
<text x="931.6" y="432.85" text-anchor="end" textLength="47.5" lengthAdjust="spacingAndGlyphs">0.25</text>
<text x="1128.83" y="615" text-anchor="middle" textLength="47.5" lengthAdjust="spacingAndGlyphs">0.25</text>
<text x="931.6" y="298.5" text-anchor="end" textLength="47.5" lengthAdjust="spacingAndGlyphs">0.50</text>
<text x="1282.65" y="615" text-anchor="middle" textLength="47.5" lengthAdjust="spacingAndGlyphs">0.50</text>
<text x="931.6" y="164.15" text-anchor="end" textLength="47.5" lengthAdjust="spacingAndGlyphs">0.75</text>
<text x="1436.47" y="615" text-anchor="middle" textLength="47.5" lengthAdjust="spacingAndGlyphs">0.75</text>
<text x="931.6" y="29.8" text-anchor="end" textLength="47.5" lengthAdjust="spacingAndGlyphs">1.00</text>
<text x="1590.3" y="615" text-anchor="middle" textLength="47.5" lengthAdjust="spacingAndGlyphs">1.00</text>
</g>
<text x="1270.2" y="657" font-size="30.2" text-anchor="middle" textLength="502.7" lengthAdjust="spacingAndGlyphs">ICCs from total depth−normalized data</text>
<text transform="translate(868.7,299.5) rotate(-90)" font-size="30.2" text-anchor="middle" textLength="432" lengthAdjust="spacingAndGlyphs">ICCs from TMM−normalized data</text>
<text x="825.3" y="29.5" font-size="41" font-weight="bold" textLength="28" lengthAdjust="spacingAndGlyphs" class="b">B</text>
</g>
</svg></body></html>
